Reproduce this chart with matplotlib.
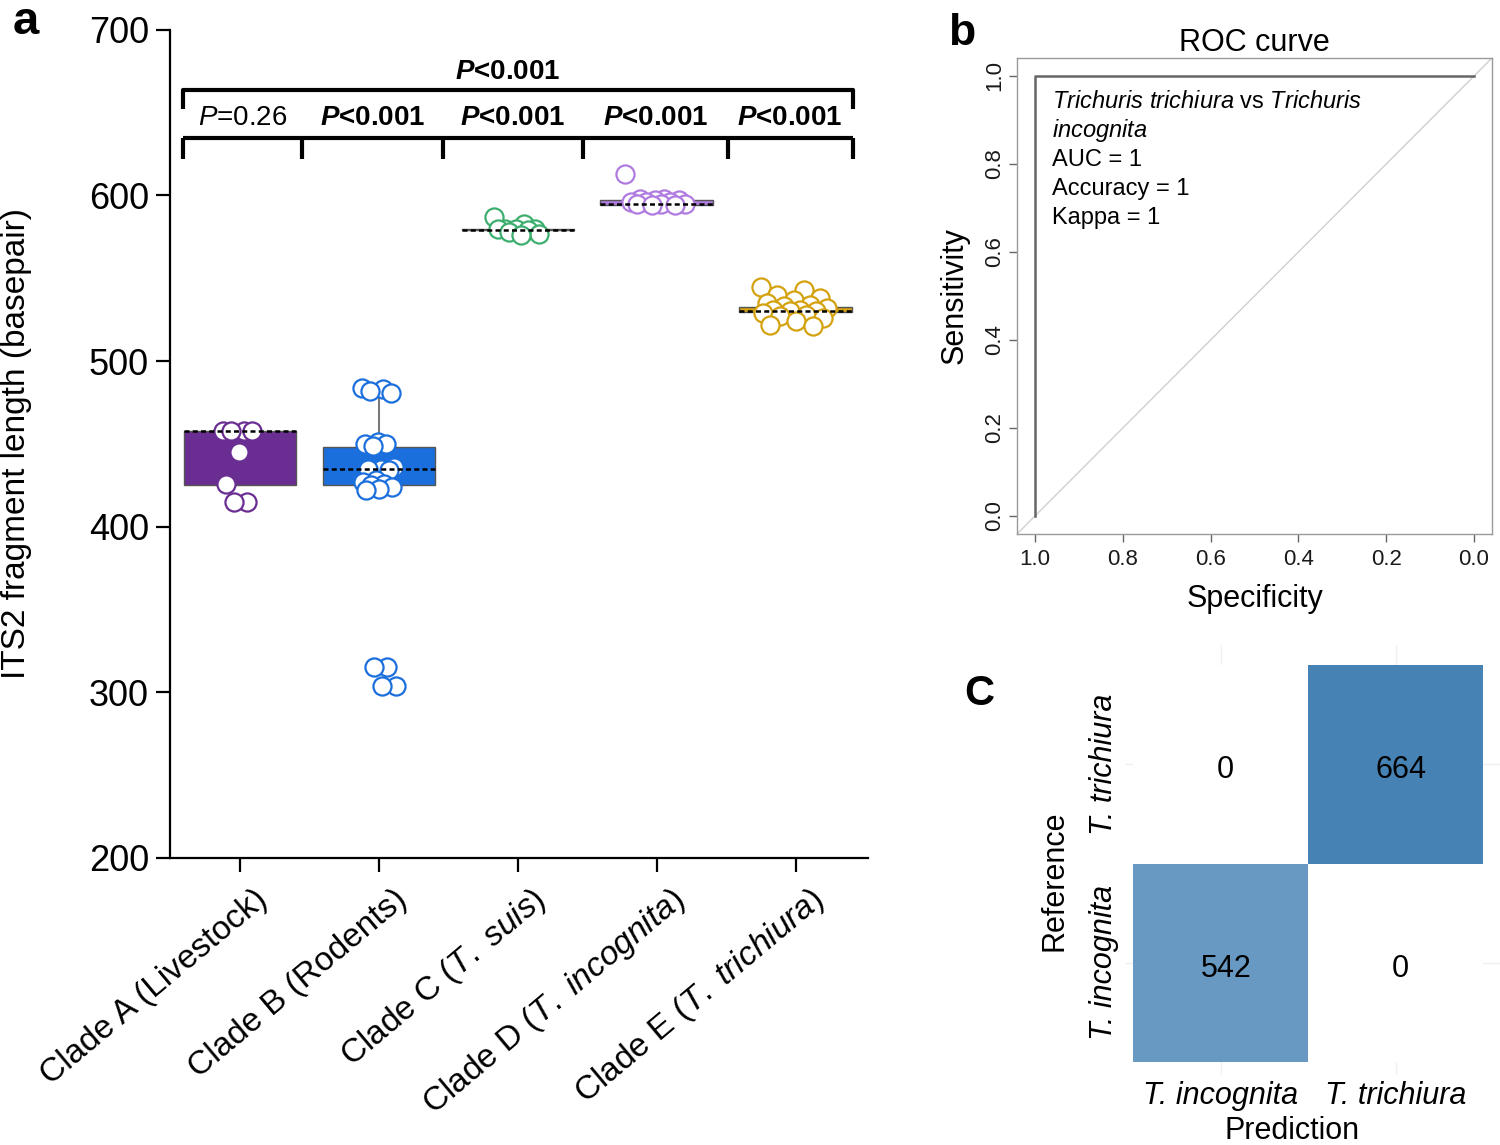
import numpy as np
import matplotlib
matplotlib.use("Agg")
import matplotlib.pyplot as plt
from matplotlib.colors import LinearSegmentedColormap
from matplotlib.transforms import offset_copy

plt.rcParams['font.family'] = ['Liberation Sans', 'DejaVu Sans']
plt.rcParams['mathtext.fontset'] = 'custom'
plt.rcParams['mathtext.rm'] = 'Liberation Sans'
plt.rcParams['mathtext.it'] = 'Liberation Sans:italic'
plt.rcParams['mathtext.bf'] = 'Liberation Sans:bold'
plt.rcParams['mathtext.bfit'] = 'Liberation Sans:bold:italic'

# ---- panel a data ----
clade_labels = ["Clade A (Livestock)", "Clade B (Rodents)",
                r"Clade C ($\mathit{T.\ suis}$)",
                r"Clade D ($\mathit{T.\ incognita}$)",
                r"Clade E ($\mathit{T.\ trichiura}$)"]
clade_colors = ["#6a2d91", "#1b6fdc", "#3cae6e", "#b07be0", "#d4a20e"]
box_q1 = [425, 425, 579, 594.5, 529.5]
box_q3 = [458, 448, 580, 597.5, 532.5]
box_med = [458, 435, 579, 595, 530]
whisk_lo = [425, 425, 579, 594.5, 529.5]
whisk_hi = [458, 482, 580, 597.5, 532.5]

pts_a = [458, 458, 458, 458, 445, 426, 415, 415]
pts_b = [484, 483, 482, 481, 451, 450, 450, 449, 436, 435, 435, 434,
         428, 427, 426, 425, 424, 423, 422, 315, 315, 304, 304]
pts_c = [587, 583, 580, 580, 580, 580, 579, 578, 577, 576]
pts_d = [613, 598, 598, 597, 597, 596, 596, 596, 595, 595, 595, 594, 594]
pts_e = [545, 543, 540, 538, 537, 535, 534, 533, 532, 531, 531, 530, 530,
         529, 528, 527, 526, 524, 522, 521]
clade_points = [pts_a, pts_b, pts_c, pts_d, pts_e]

pair_labels = ["=0.26", "<0.001", "<0.001", "<0.001", "<0.001"]
pair_bold = [False, True, True, True, True]
overall_label = "<0.001"

# ---- panel b data ----
roc_spec = [1.0, 1.0, 0.0]
roc_sens = [0.0, 1.0, 1.0]
roc_lines = [r"$\mathit{Trichuris\ trichiura}$ vs $\mathit{Trichuris}$",
             r"$\mathit{incognita}$", "AUC = 1", "Accuracy = 1", "Kappa = 1"]

# ---- panel c data ----
cm_classes = ["T. incognita", "T. trichiura"]
cm_counts = [[542, 0],   # reference T. incognita
             [0, 664]]   # reference T. trichiura

fig = plt.figure(figsize=(15, 11.45), dpi=100)

# ================= panel a =================
ax = fig.add_axes([0.1133, 0.2507, 0.4653, 0.7232])
pos = np.arange(len(clade_labels))
stats = []
for i in range(len(pos)):
    stats.append(dict(q1=box_q1[i], q3=box_q3[i], med=box_med[i],
                      whislo=whisk_lo[i], whishi=whisk_hi[i], fliers=[]))
bp = ax.bxp(stats, positions=pos, widths=0.81, patch_artist=True,
            showfliers=False, showcaps=False,
            boxprops=dict(edgecolor="#555555", lw=1),
            whiskerprops=dict(color="#7a7a7a", lw=1.5),
            medianprops=dict(color="black", lw=1.8, linestyle=(0, (2, 1.3))))
for patch, c in zip(bp['boxes'], clade_colors):
    patch.set_facecolor(c)
for med in bp['medians']:
    med.set_zorder(4)

spread = [0.25, 0.25, 0.35, 0.45, 0.5]
for i, vals in enumerate(clade_points):
    n = len(vals)
    off = spread[i] * (((np.arange(n) * 0.618034) % 1) - 0.5)
    ax.scatter(pos[i] + off, vals, s=170, facecolor="white",
               edgecolor=clade_colors[i], lw=1.6, zorder=3)

ax.set_xlim(-0.504, 4.52)
ax.set_ylim(200, 700)
ax.set_yticks([200, 300, 400, 500, 600, 700])
ax.set_xticks(pos)
ax.set_xticklabels([])
for s in ["top", "right"]:
    ax.spines[s].set_visible(False)
for s in ["left", "bottom"]:
    ax.spines[s].set_linewidth(1.6)
ax.tick_params(axis="both", direction="out", length=10, width=1.6,
               labelsize=26, pad=5)
ax.set_ylabel("ITS2 fragment length (basepair)", fontsize=24)
ax.yaxis.set_label_coords(-0.197, 0.5)

tr = offset_copy(ax.get_xaxis_transform(), fig=fig, x=24, y=-38, units="dots")
for i, lab in enumerate(clade_labels):
    ax.text(pos[i], 0, lab, transform=tr, rotation=40, rotation_mode="anchor",
            ha="right", va="center", fontsize=24)

# significance brackets
br_x = [-0.41, 0.45, 1.46, 2.47, 3.51, 4.41]
ax.plot([br_x[0], br_x[-1]], [635, 635], color="black", lw=3, solid_capstyle="butt")
for bx in br_x:
    ax.plot([bx, bx], [635, 622], color="black", lw=3, solid_capstyle="butt")
ax.plot([br_x[0], br_x[0], br_x[-1], br_x[-1]], [652, 664, 664, 652],
        color="black", lw=3, solid_capstyle="butt")
for k in range(5):
    xm = (br_x[k] + br_x[k + 1]) / 2
    if pair_bold[k]:
        ax.text(xm, 647, r"$\mathbfit{P}$" + pair_labels[k], ha="center",
                va="center", fontsize=20, fontweight="bold")
    else:
        ax.text(xm, 647, r"$\mathit{P}$" + pair_labels[k], ha="center",
                va="center", fontsize=20)
ax.text(1.93, 674.6, r"$\mathbfit{P}$" + overall_label, ha="center",
        va="center", fontsize=20, fontweight="bold")

# ================= panel b =================
axb = fig.add_axes([0.6783, 0.534, 0.3161, 0.415])
axb.plot([1.04, -0.04], [-0.04, 1.04], color="#d0d0d0", lw=1)
axb.plot(roc_spec, roc_sens, color="#666666", lw=1.8)
axb.set_xlim(1.04, -0.04)
axb.set_ylim(-0.04, 1.04)
ticks = [0.0, 0.2, 0.4, 0.6, 0.8, 1.0]
axb.set_xticks(ticks)
axb.set_yticks(ticks)
axb.set_xticklabels([f"{t:.1f}" for t in ticks])
axb.set_yticklabels([f"{t:.1f}" for t in ticks], rotation=90, va="center")
for s in axb.spines.values():
    s.set_color("#9a9a9a")
    s.set_linewidth(1)
axb.tick_params(axis="both", direction="out", length=6, width=1,
                color="#666666", labelsize=16, labelcolor="#1a1a1a")
axb.tick_params(axis="x", pad=5)
axb.tick_params(axis="y", pad=3)
axb.set_title("ROC curve", fontsize=22, pad=4)
axb.set_xlabel("Specificity", fontsize=22, labelpad=10)
axb.set_ylabel("Sensitivity", fontsize=22, labelpad=10)
for k, line in enumerate(roc_lines):
    axb.text(0.961, 0.941 - k * 0.066, line, ha="left", va="center", fontsize=17)

# ================= panel c =================
axc = fig.add_axes([0.75, 0.0611, 0.25, 0.3755])
cmap = LinearSegmentedColormap.from_list("wsb", ["white", "steelblue"])
edges = [0.5, 1.5, 2.5]
cm = np.array(cm_counts)
axc.pcolormesh(edges, edges, cm, cmap=cmap, vmin=0, vmax=cm.max(), zorder=1)
for r in range(2):
    for c in range(2):
        axc.text(c + 1.03, r + 0.97, str(cm[r, c]), ha="center", va="center",
                 fontsize=22, zorder=3)
axc.set_xlim(0.454, 2.597)
axc.set_ylim(0.434, 2.601)
axc.set_xticks([1, 2])
axc.set_yticks([1, 2])
axc.set_xticklabels(cm_classes, fontstyle="italic", fontsize=22)
axc.set_yticklabels(cm_classes, fontstyle="italic", fontsize=22,
                    rotation=90, va="center")
axc.grid(True, color="#f0f0f0", lw=1)
axc.set_axisbelow(True)
for s in axc.spines.values():
    s.set_visible(False)
axc.tick_params(length=0, pad=4)
axc.tick_params(axis="y", pad=4)
axc.set_xlabel("Prediction", fontsize=22)
axc.set_ylabel("Reference", fontsize=22)
axc.xaxis.set_label_coords(0.445, -0.096)
axc.yaxis.set_label_coords(-0.148, 0.453)

# panel letters
fig.text(0.017, 0.981, "a", fontsize=34, fontweight="bold", ha="center", va="center")
fig.text(0.641, 0.971, "b", fontsize=32, fontweight="bold", ha="center", va="center")
fig.text(0.653, 0.394, "C", fontsize=30, fontweight="bold", ha="center", va="center")

fig.savefig("out.png", dpi=100)
